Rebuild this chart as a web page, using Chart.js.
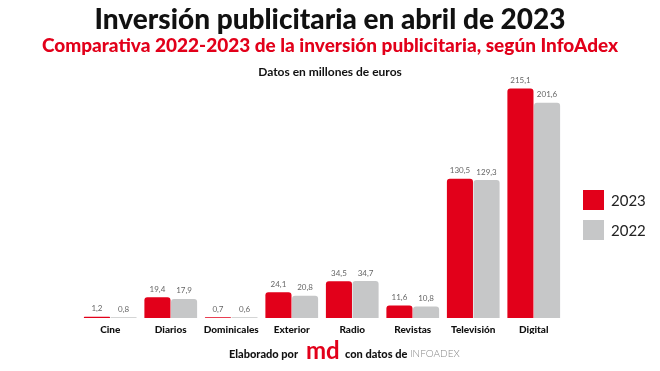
<!DOCTYPE html>
<html>
<head>
<meta charset="utf-8">
<script src="https://cdn.jsdelivr.net/npm/chart.js@4.4.0/dist/chart.umd.min.js"></script>
<style>
  body { margin: 0; background: #fff; }
  canvas { display: block; }
</style>
</head>
<body>
<canvas id="Bars" width="660" height="371"></canvas>
<script>
const categories = ["Cine", "Diarios", "Dominicales", "Exterior", "Radio", "Revistas", "Televisión", "Digital"]; // Eje X
const values2023 = [1.2, 19.4, 0.7, 24.1, 34.5, 11.6, 130.5, 215.1];
const values2022 = [0.8, 17.9, 0.6, 20.8, 34.7, 10.8, 129.3, 201.6];
const seriesNames = ["2023", "2022"];

const title = "Inversión publicitaria en abril de 2023";
const subtitle = "Comparativa 2022-2023 de la inversión publicitaria, según InfoAdex";
const note = "Datos en millones de euros";

const RED = "#e2001a";
const GREY = "#c6c7c8";
const FONT = "Lato, 'Open Sans', sans-serif";

// textos de cabecera, etiquetas de valor, leyenda y pie
const extras = {
    id: "extras",
    afterDatasetsDraw(chart) {
        const ctx = chart.ctx;
        ctx.save();
        // etiquetas de valor encima de cada barra
        ctx.font = "8px " + FONT;
        ctx.fillStyle = "#666";
        ctx.textAlign = "center";
        ctx.textBaseline = "middle";
        chart.data.datasets.forEach((ds, i) => {
            chart.getDatasetMeta(i).data.forEach((bar, j) => {
                const txt = ds.data[j].toFixed(1).replace(".", ",");
                ctx.fillText(txt, bar.x, bar.y - 8);
            });
        });
        ctx.restore();
    },
    afterDraw(chart) {
        const ctx = chart.ctx;
        const cx = 330;
        ctx.save();
        ctx.textAlign = "center";
        ctx.textBaseline = "middle";
        ctx.fillStyle = "#111";
        ctx.font = "900 28px " + FONT;
        ctx.fillText(title, cx, 20);
        ctx.fillStyle = RED;
        ctx.font = "900 19px " + FONT;
        ctx.fillText(subtitle, cx, 46);
        ctx.fillStyle = "#111";
        ctx.font = "bold 12px " + FONT;
        ctx.fillText(note, cx, 72);

        // leyenda a la derecha
        ctx.textAlign = "left";
        ctx.font = "15px " + FONT;
        chart.data.datasets.forEach((ds, i) => {
            const top = 190 + i * 30;
            ctx.fillStyle = ds.backgroundColor;
            ctx.fillRect(583, top, 21, 20);
            ctx.fillStyle = "#222";
            ctx.fillText(ds.label, 611, top + 11);
        });

        // pie: Elaborado por md con datos de INFOADEX
        const y = 354;
        ctx.font = "900 11px " + FONT;
        ctx.fillStyle = "#111";
        ctx.fillText("Elaborado por", 229, y);
        ctx.fillStyle = RED;
        ctx.font = "bold 24px " + FONT;
        ctx.fillText("md", 306, y - 3);
        ctx.fillStyle = "#111";
        ctx.font = "900 11px " + FONT;
        ctx.fillText("con datos de", 345, y);
        ctx.fillStyle = "#888";
        ctx.font = "300 10px " + FONT;
        ctx.fillText("INFOADEX", 410, y);
        ctx.restore();
    }
};

new Chart(document.querySelector("#Bars"), {
    type: "bar",
    data: {
        labels: categories,
        datasets: [
            { label: seriesNames[0], data: values2023, backgroundColor: RED, borderRadius: { topLeft: 3, topRight: 3 }, borderSkipped: "bottom" },
            { label: seriesNames[1], data: values2022, backgroundColor: GREY, borderRadius: { topLeft: 3, topRight: 3 }, borderSkipped: "bottom" }
        ]
    },
    options: {
        responsive: false,
        animation: false,
        datasets: {
            bar: { categoryPercentage: 0.88, barPercentage: 0.98 }
        },
        layout: { padding: { top: 80, left: 80, right: 96, bottom: 37 } },
        plugins: {
            legend: { display: false },
            tooltip: { enabled: false }
        },
        scales: {
            x: {
                grid: { display: false },
                border: { display: false },
                ticks: { color: "#111", padding: -2, maxRotation: 0, autoSkip: false, font: { family: FONT, size: 10, weight: "900" } }
            },
            y: {
                display: false,
                min: 0,
                max: 223
            }
        }
    },
    plugins: [extras]
});
</script>
</body>
</html>
